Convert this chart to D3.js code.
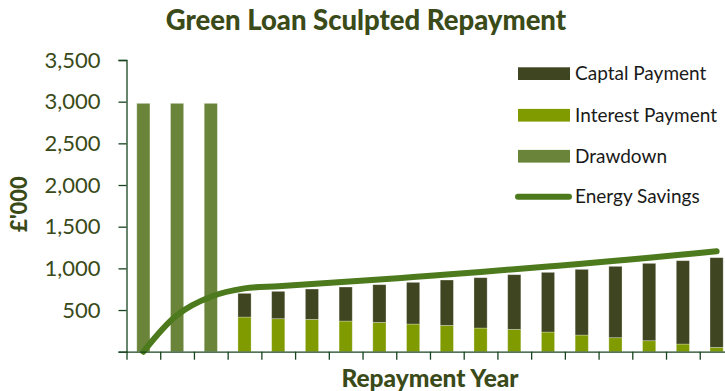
<!DOCTYPE html>
<html>
<head>
<meta charset="utf-8">
<script src="https://cdn.jsdelivr.net/npm/d3@7/dist/d3.min.js"></script>
<style>
  html, body { margin: 0; padding: 0; background: #ffffff; }
  svg { display: block; font-family: Lato, "Open Sans", sans-serif; }
</style>
</head>
<body>
<svg id="chart" width="725" height="391"></svg>
<script>
// Years on the horizontal axis: three drawdown years, then fifteen repayment years
const years = d3.range(1, 19);

// £'000 per year
const drawdown = [2980, 2980, 2980, 0, 0, 0, 0, 0, 0, 0, 0, 0, 0, 0, 0, 0, 0, 0];
const interestPayment = [0, 0, 0, 416, 396, 388, 368, 352, 332, 316, 284, 268, 236, 200, 168, 132, 92, 52];
const capitalPayment = [0, 0, 0, 284, 328, 364, 408, 452, 500, 544, 604, 656, 716, 788, 856, 928, 1000, 1076];
const energySavings = [0, 440, 660, 760, 785, 812, 839, 867, 896, 926, 957, 989, 1022, 1056, 1092, 1128, 1166, 1206];

const yTicks = [0, 500, 1000, 1500, 2000, 2500, 3000, 3500];
const legendLabels = ["Captal Payment", "Interest Payment", "Drawdown", "Energy Savings"];

const colors = {
  capital: "#3f4520",
  interest: "#7f9b00",
  drawdown: "#6a853a",
  savings: "#4d7a1c",
  text: "#3a4a18",
  axis: "#17441f"
};

const svg = d3.select("#chart");
const W = 725, H = 391;
const plot = { left: 126.5, top: 60, bottom: 351.7 };
const step = 33.72;
const plotRight = plot.left + step * years.length;

const x = d3.scaleBand()
  .domain(years)
  .range([plot.left, plotRight])
  .paddingInner(0.61)
  .paddingOuter(0.305);

// boundary scale for the tick marks between years
const xEdge = d3.scaleLinear()
  .domain([0, years.length])
  .range([plot.left, plotRight]);

const y = d3.scaleLinear()
  .domain([0, 3500])
  .range([plot.bottom, plot.top]);

const rows = years.map((yr, i) => ({
  year: yr,
  drawdown: drawdown[i],
  interest: interestPayment[i],
  capital: capitalPayment[i],
  savings: energySavings[i]
}));

svg.append("defs").append("clipPath").attr("id", "plotClip")
  .append("rect").attr("x", 0).attr("y", 0).attr("width", W).attr("height", H);

const g = svg.append("g").attr("clip-path", "url(#plotClip)");

// Drawdown bars
g.append("g").selectAll("rect")
  .data(rows.filter(d => d.drawdown > 0))
  .join("rect")
  .attr("x", d => x(d.year))
  .attr("width", x.bandwidth())
  .attr("y", d => y(d.drawdown))
  .attr("height", d => y(0) - y(d.drawdown))
  .attr("fill", colors.drawdown)
  .attr("stroke", "#ffffff").attr("stroke-opacity", 0.35).attr("stroke-width", 0.8);

// Repayment bars: interest at the bottom, capital stacked on top
const stack = d3.stack().keys(["interest", "capital"]);
const series = stack(rows.filter(d => d.interest + d.capital > 0));
g.append("g").selectAll("g")
  .data(series)
  .join("g")
  .attr("fill", s => s.key === "interest" ? colors.interest : colors.capital)
  .selectAll("rect")
  .data(s => s)
  .join("rect")
  .attr("x", d => x(d.data.year))
  .attr("width", x.bandwidth())
  .attr("y", d => y(d[1]))
  .attr("height", d => y(d[0]) - y(d[1]))
  .attr("stroke", "#ffffff").attr("stroke-opacity", 0.35).attr("stroke-width", 0.8);

// Energy savings line
const line = d3.line()
  .x(d => x(d.year) + x.bandwidth() / 2)
  .y(d => y(d.savings))
  .curve(d3.curveCatmullRom.alpha(0.5));

g.append("path")
  .datum(rows)
  .attr("d", line)
  .attr("fill", "none")
  .attr("stroke", colors.savings)
  .attr("stroke-width", 6)
  .attr("stroke-linecap", "round")
  .attr("stroke-linejoin", "round");

// Y axis
const yAxis = svg.append("g")
  .attr("transform", `translate(${plot.left},0)`)
  .call(d3.axisLeft(y)
    .tickValues(yTicks)
    .tickSize(8)
    .tickPadding(18)
    .tickFormat(v => v === 0 ? "" : d3.format(",")(v)));
yAxis.select(".domain").attr("stroke", colors.axis).attr("stroke-width", 1.3);
yAxis.selectAll(".tick line").attr("stroke", colors.axis).attr("stroke-width", 1.3);
yAxis.selectAll(".tick text")
  .attr("fill", colors.text)
  .style("font-family", "Lato, sans-serif")
  .style("font-size", "22px");

// X axis: tick marks at year boundaries, no labels
const xAxis = svg.append("g")
  .attr("transform", `translate(0,${plot.bottom})`)
  .call(d3.axisBottom(xEdge)
    .tickValues(d3.range(0, years.length + 1))
    .tickSize(8)
    .tickSizeOuter(0)
    .tickFormat(""));
xAxis.select(".domain").attr("stroke", colors.axis).attr("stroke-width", 1.3);
xAxis.selectAll(".tick line").attr("stroke", colors.axis).attr("stroke-width", 1.3);

// Title
svg.append("text")
  .attr("x", 366)
  .attr("y", 30)
  .attr("text-anchor", "middle")
  .attr("fill", colors.text)
  .style("font-weight", "900")
  .style("font-size", "27.5px")
  .text("Green Loan Sculpted Repayment");

// Axis titles
svg.append("text")
  .attr("x", 430)
  .attr("y", 387)
  .attr("text-anchor", "middle")
  .attr("fill", colors.text)
  .style("font-weight", "900")
  .style("font-size", "24.5px")
  .text("Repayment Year");

svg.append("text")
  .attr("transform", "translate(27,204) rotate(-90)")
  .attr("text-anchor", "middle")
  .attr("fill", colors.text)
  .style("font-weight", "900")
  .style("font-size", "22px")
  .text("£'000");

// Legend
const legend = svg.append("g");
const legendColors = [colors.capital, colors.interest, colors.drawdown, colors.savings];
const legendY = [73.7, 115.3, 156.3, 196.7];
legendLabels.forEach((label, i) => {
  const row = legend.append("g").attr("transform", `translate(0,${legendY[i]})`);
  if (i < 3) {
    row.append("rect")
      .attr("x", 518).attr("y", -6.4)
      .attr("width", 52).attr("height", 12.7)
      .attr("fill", legendColors[i]);
  } else {
    row.append("line")
      .attr("x1", 518).attr("x2", 569)
      .attr("y1", 0).attr("y2", 0)
      .attr("stroke", legendColors[i])
      .attr("stroke-width", 6)
      .attr("stroke-linecap", "round");
  }
  row.append("text")
    .attr("x", 575)
    .attr("y", 0)
    .attr("dy", "0.35em")
    .attr("fill", "#1a1a1a")
    .style("font-size", "19px")
    .text(label);
});
</script>
</body>
</html>
